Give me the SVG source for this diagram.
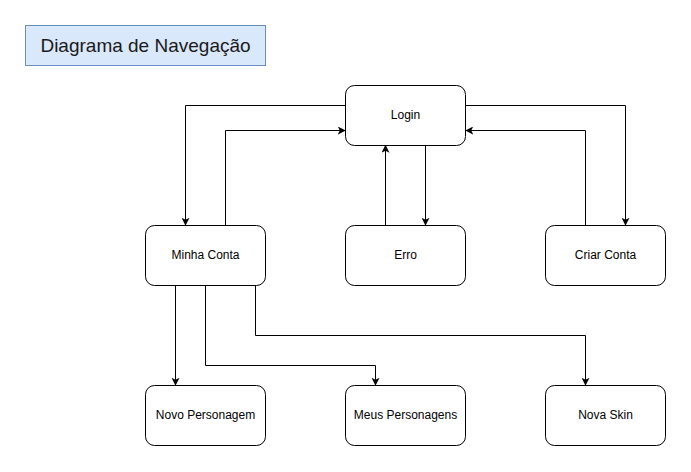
<svg xmlns="http://www.w3.org/2000/svg" width="691" height="472" viewBox="0 0 691 472">
<style>
.node rect{fill:#ffffff;stroke:#000000;stroke-width:1}
.node text{font-family:"Liberation Sans",Arial,sans-serif;font-size:12px;fill:#000000;text-anchor:middle;dominant-baseline:central}
.edge{fill:none;stroke:#000000;stroke-width:1;marker-end:url(#arr)}
</style>
<defs>
<marker id="arr" viewBox="0 0 10 10" refX="9" refY="5" markerWidth="8" markerHeight="8" markerUnits="userSpaceOnUse" orient="auto">
<path d="M0,0 L10,5 L0,10 L2.5,5 z" fill="#000000"/>
</marker>
</defs>
<rect width="691" height="472" fill="#ffffff"/>
<g id="title">
<rect x="25.5" y="25.5" width="240" height="40" fill="#dae8fc" stroke="#6c8ebf"/>
<text x="145.5" y="45.5" font-family="'Liberation Sans',Arial,sans-serif" font-size="19" fill="#1a1a1a" text-anchor="middle" dominant-baseline="central">Diagrama de Navegação</text>
</g>
<g id="connectors">
<path class="edge" d="M345.5,105.5 H185.5 V225"/>
<path class="edge" d="M225.5,225.5 V130.5 H345"/>
<path class="edge" d="M385.5,225.5 V145.5"/>
<path class="edge" d="M425.5,145.5 V225"/>
<path class="edge" d="M465.5,105.5 H625.5 V225"/>
<path class="edge" d="M585.5,225.5 V130.5 H466"/>
<path class="edge" d="M175.5,285.5 V385"/>
<path class="edge" d="M205.5,285.5 V365.5 H375.5 V385"/>
<path class="edge" d="M255.5,285.5 V335.5 H585.5 V385"/>
</g>
<g id="login" class="node"><rect x="345.5" y="85.5" width="120" height="60" rx="9"/><text x="405.5" y="115">Login</text></g>
<g id="minha-conta" class="node"><rect x="145.5" y="225.5" width="120" height="60" rx="9"/><text x="205.5" y="255">Minha Conta</text></g>
<g id="erro" class="node"><rect x="345.5" y="225.5" width="120" height="60" rx="9"/><text x="405.5" y="255">Erro</text></g>
<g id="criar-conta" class="node"><rect x="545.5" y="225.5" width="120" height="60" rx="9"/><text x="605.5" y="255">Criar Conta</text></g>
<g id="novo-personagem" class="node"><rect x="145.5" y="385.5" width="120" height="60" rx="9"/><text x="205.5" y="415">Novo Personagem</text></g>
<g id="meus-personagens" class="node"><rect x="345.5" y="385.5" width="120" height="60" rx="9"/><text x="405.5" y="415">Meus Personagens</text></g>
<g id="nova-skin" class="node"><rect x="545.5" y="385.5" width="120" height="60" rx="9"/><text x="605.5" y="415">Nova Skin</text></g>
</svg>
